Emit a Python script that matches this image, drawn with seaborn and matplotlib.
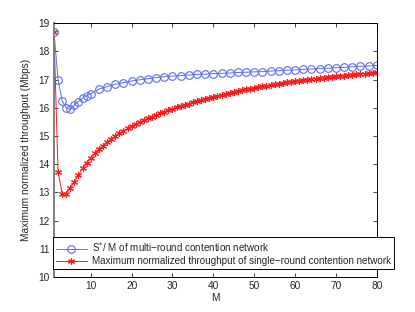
import numpy as np
import pandas as pd
import matplotlib
matplotlib.use("Agg")
import matplotlib.pyplot as plt
import seaborn as sns

sns.set_style("white")
plt.rcParams['font.family'] = ['Liberation Sans', 'DejaVu Sans']

# S*/M of multi-round contention network (M = 1..10, then every 2)
m_multi = list(range(1, 11)) + list(range(12, 81, 2))
s_multi = [18.70, 17.00, 16.25, 16.00, 15.94, 16.10, 16.22, 16.34, 16.43, 16.50,
           16.66, 16.75, 16.83, 16.89, 16.95, 16.99, 17.03, 17.07, 17.10, 17.12,
           17.14, 17.16, 17.18, 17.19, 17.21, 17.22, 17.23, 17.25, 17.26, 17.27,
           17.28, 17.30, 17.31, 17.33, 17.34, 17.36, 17.37, 17.39, 17.40, 17.42,
           17.43, 17.45, 17.47, 17.48, 17.50]

# maximum normalized throughput of single-round contention network (M = 1..80)
m_single = list(range(1, 81))
s_single = [18.70, 13.73, 12.96, 12.96, 13.16, 13.38, 13.61, 13.85, 14.05, 14.23,
            14.38, 14.53, 14.65, 14.78, 14.89, 14.99, 15.09, 15.18, 15.27, 15.35,
            15.42, 15.49, 15.56, 15.62, 15.68, 15.74, 15.80, 15.86, 15.91, 15.97,
            16.02, 16.06, 16.11, 16.15, 16.19, 16.23, 16.27, 16.31, 16.35, 16.39,
            16.42, 16.46, 16.49, 16.53, 16.56, 16.59, 16.62, 16.65, 16.68, 16.70,
            16.73, 16.76, 16.78, 16.81, 16.83, 16.85, 16.88, 16.90, 16.92, 16.94,
            16.96, 16.98, 17.00, 17.02, 17.03, 17.05, 17.07, 17.08, 17.10, 17.11,
            17.13, 17.14, 17.16, 17.17, 17.19, 17.20, 17.21, 17.23, 17.24, 17.25]

labels = ["S$^{*}$/ M of multi\u2212round contention network",
          "Maximum normalized throughput of single\u2212round contention network"]

fig = plt.figure(figsize=(4.15, 3.12), dpi=100)
ax = fig.add_axes([0.13, 0.112, 0.778, 0.814])

sns.lineplot(x=m_multi, y=s_multi, ax=ax, color='#5b6cf2', lw=0.7,
             marker='o', markersize=5.5, markerfacecolor='none',
             markeredgecolor='#5b6cf2', markeredgewidth=0.8, label=labels[0])
sns.lineplot(x=m_single, y=s_single, ax=ax, color='#ff1a1a', lw=0.7,
             marker=(6, 2, 0), markersize=5, markeredgecolor='#ff1a1a',
             markeredgewidth=0.8, label=labels[1])

ax.set_xlim(1, 80)
ax.set_ylim(10, 19)
ax.set_xticks(range(10, 81, 10))
ax.set_yticks(range(10, 20))
ax.tick_params(direction='in', length=3, width=0.6, labelsize=7.3,
               top=True, right=True, bottom=True, left=True, pad=3)
for sp in ax.spines.values():
    sp.set_color('black')
    sp.set_linewidth(0.7)
ax.spines['left'].set_color('#808080')
ax.spines['left'].set_linewidth(1.4)

ax.set_xlabel("M", fontsize=7.3, labelpad=1)
ax.set_ylabel("Maximum normalized throughput (Mbps)", fontsize=7.3, labelpad=5)

leg = ax.legend(loc='lower left', bbox_to_anchor=(-0.004, 0.03), fontsize=7.1,
                frameon=True, fancybox=False, edgecolor='black',
                borderpad=0.3, labelspacing=0.25, handlelength=3.2,
                handletextpad=0.5, borderaxespad=0)
leg.get_frame().set_linewidth(0.7)
leg.get_frame().set_alpha(1)

fig.savefig("out.png", dpi=100)
